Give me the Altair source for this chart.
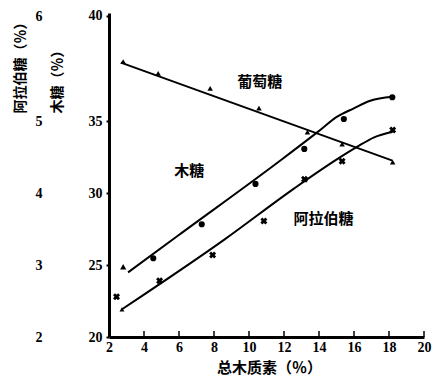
import altair as alt
import pandas as pd

# ---- data ----
glu_x = [2.81, 4.81, 7.78, 10.57, 13.34, 15.32, 18.21]
glu_y = [39.12, 38.31, 37.26, 35.90, 34.22, 33.40, 32.15]
glu_fit_x = [2.68, 18.2]
glu_fit_y = [39.05, 32.25]

xyl_x = [2.81, 4.53, 7.30, 10.37, 13.16, 15.42, 18.19]
xyl_y = [24.88, 25.47, 27.83, 30.63, 33.06, 35.14, 36.65]
xyl_shape = ["triangle-up", "circle", "circle", "circle", "circle", "circle", "circle"]
xyl_fit_x = [3.09, 5.99, 11.83, 13.95, 15.04, 15.99, 16.93, 18.19]
xyl_fit_y = [24.49, 27.08, 32.29, 34.26, 35.30, 35.88, 36.41, 36.69]

ara_x = [2.43, 4.89, 7.92, 10.85, 13.17, 15.32, 18.21]
ara_y = [2.56, 2.78, 3.14, 3.61, 4.19, 4.44, 4.875]
ara_fit_x = [2.74, 8.63, 12.59, 15.04, 16.17, 17.12, 18.21]
ara_fit_y = [2.385, 3.36, 4.065, 4.47, 4.64, 4.77, 4.85]

ann_text = ["葡萄糖", "木糖", "阿拉伯糖"]
ann_x = [10.61, 6.59, 14.25]
ann_y = [37.73, 31.55, 28.17]

x_ticks = [2, 4, 6, 8, 10, 12, 14, 16, 18, 20]
x_inner_ticks = [4, 6, 8, 10, 12, 14, 16, 18, 20]
xyl_ticks = [20, 25, 30, 35, 42.3]
ara_ticks = [2, 3, 4, 5, 6.45]

NUMFONT = "Liberation Serif"
CJK = "Noto Sans CJK SC"
W, H = 315, 324

x_enc = alt.X(
    "x:Q",
    scale=alt.Scale(domain=[2, 20], nice=False, zero=False),
    axis=alt.Axis(
        values=x_ticks, ticks=False, grid=False, labelFlush=False,
        domainColor="black", domainWidth=3, labelPadding=3,
        labelFont=NUMFONT, labelFontSize=14, labelFontWeight="bold", labelColor="black",
        title="总木质素（％）", titleFont=CJK, titleFontSize=15, titleFontWeight="bold",
        titleColor="black", titleX=160, titleY=30, titleBaseline="middle",
    ),
)

y_axis_a = alt.Axis(
    orient="left",
    values=xyl_ticks,
    labelExpr="datum.value > 41 ? '40' : datum.label",
    grid=False, tickSize=3, tickWidth=2, tickColor="black", labelPadding=4,
    domainColor="black", domainWidth=3,
    labelFont=NUMFONT, labelFontSize=14, labelFontWeight="bold", labelColor="black",
    title="木糖（％）", titleFont=CJK, titleFontSize=14, titleFontWeight="bold",
    titleColor="black", titleX=-51.5, titleY=65, titleBaseline="middle", titleAlign="center",
    titleAngle=270,
)
y_scale_a = alt.Scale(domain=[20, 20 + H / 14.4], nice=False, zero=False)


def ya():
    return alt.Y("y:Q", scale=y_scale_a, axis=y_axis_a)


y_axis_b = alt.Axis(
    orient="left",
    values=ara_ticks,
    labelExpr="datum.value > 6.2 ? '6' : datum.label",
    grid=False, ticks=False, domain=False, offset=60, labelPadding=7,
    labelFont=NUMFONT, labelFontSize=14, labelFontWeight="bold", labelColor="black",
    title="阿拉伯糖（％）", titleFont=CJK, titleFontSize=14, titleFontWeight="bold",
    titleColor="black", titleX=-29, titleY=51, titleBaseline="middle", titleAlign="center",
    titleAngle=270,
)
y_scale_b = alt.Scale(domain=[2, 2 + H / 72], nice=False, zero=False)


def yb():
    return alt.Y("y:Q", scale=y_scale_b, axis=y_axis_b)


glu_pts = pd.DataFrame({"x": glu_x, "y": glu_y})
glu_fit = pd.DataFrame({"x": glu_fit_x, "y": glu_fit_y})
xyl_pts = pd.DataFrame({"x": xyl_x, "y": xyl_y, "shape": xyl_shape})
xyl_fit = pd.DataFrame({"x": xyl_fit_x, "y": xyl_fit_y})
ara_pts = pd.DataFrame({"x": ara_x, "y": ara_y})
ara_fit = pd.DataFrame({"x": ara_fit_x, "y": ara_fit_y})
ann = pd.DataFrame({"x": ann_x, "y": ann_y, "t": ann_text})
xt = pd.DataFrame({"x": x_inner_ticks})

l_glu_line = alt.Chart(glu_fit).mark_line(color="black", strokeWidth=2).encode(x=x_enc, y=ya())
l_glu_pts = alt.Chart(glu_pts).mark_point(
    shape="triangle-up", filled=True, size=30, color="black", opacity=1
).encode(x=x_enc, y=ya())
l_xyl_line = alt.Chart(xyl_fit).mark_line(
    color="black", strokeWidth=2, interpolate="monotone"
).encode(x=x_enc, y=ya())
l_xyl_pts = alt.Chart(xyl_pts).mark_point(
    filled=True, size=38, color="black", opacity=1
).encode(x=x_enc, y=ya(), shape=alt.Shape("shape:N", scale=None))
l_ann = alt.Chart(ann).mark_text(
    font=CJK, fontSize=15, fontWeight="bold", color="black", baseline="middle", align="center"
).encode(x=x_enc, y=ya(), text="t:N")
l_xt = alt.Chart(xt).mark_rule(color="black", strokeWidth=1.5).encode(
    x=x_enc, y=alt.value(H - 6), y2=alt.value(H)
)

layer_a = alt.layer(l_glu_line, l_glu_pts, l_xyl_line, l_xyl_pts, l_ann, l_xt)

l_ara_line = alt.Chart(ara_fit).mark_line(
    color="black", strokeWidth=2, interpolate="monotone"
).encode(x=x_enc, y=yb())
l_ara_start = alt.Chart(ara_fit.iloc[[0]]).mark_point(
    shape="triangle-up", filled=True, size=24, color="black", opacity=1
).encode(x=x_enc, y=yb())
l_ara_pts = alt.Chart(ara_pts).mark_point(
    shape="cross", angle=45, filled=True, size=50, color="black", opacity=1
).encode(x=x_enc, y=yb())

layer_b = alt.layer(l_ara_line, l_ara_start, l_ara_pts)

chart = (
    alt.layer(layer_a, layer_b)
    .resolve_scale(y="independent")
    .properties(
        width=W,
        height=H,
        autosize=alt.AutoSizeParams(type="none"),
        padding={"left": 101, "top": 5, "right": 8, "bottom": 39},
        background="white",
    )
    .configure_view(stroke=None)
)

chart.save("out.html", embed_options={"renderer": "svg", "actions": False})
